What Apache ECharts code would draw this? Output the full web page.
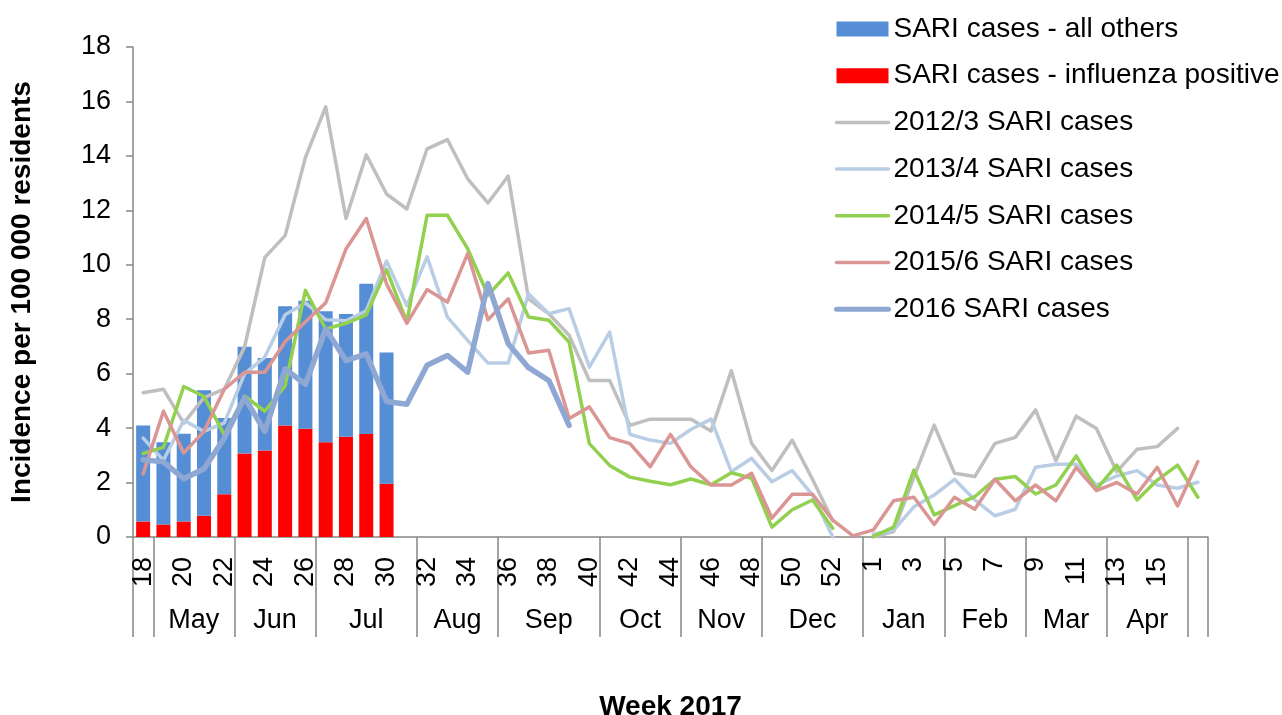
<!DOCTYPE html>
<html>
<head>
<meta charset="utf-8">
<script src="https://cdn.jsdelivr.net/npm/echarts@6/dist/echarts.min.js"></script>
<style>
  html, body { margin: 0; padding: 0; background: #fff; }
  #chart { width: 1282px; height: 715px; }
</style>
</head>
<body>
<div id="chart"></div>
<script>
// weeks of the season, 2016 wk18 .. 2017 wk17 (wk53 from 2015/6 only)
const weeks = ["18","19","20","21","22","23","24","25","26","27","28","29","30","31","32","33","34","35",
  "36","37","38","39","40","41","42","43","44","45","46","47","48","49","50","51","52","53",
  "1","2","3","4","5","6","7","8","9","10","11","12","13","14","15","16","17"];

// month groups: name and index of first week in group
const monthNames = ["", "May", "Jun", "Jul", "Aug", "Sep", "Oct", "Nov", "Dec", "Jan", "Feb", "Mar", "Apr", ""];
const monthStarts = [0, 1, 5, 9, 14, 18, 23, 27, 31, 36, 40, 44, 48, 52];

const fluPositive = [0.57, 0.46, 0.57, 0.78, 1.57, 3.07, 3.18, 4.10, 3.98, 3.48, 3.68, 3.78, 1.96];
const allOthers   = [3.53, 3.02, 3.22, 4.61, 2.80, 3.92, 3.40, 4.38, 4.70, 4.81, 4.51, 5.52, 4.82];

const s2012 = [5.30, 5.43, 4.18, 5.12, 5.43, 6.98, 10.27, 11.07, 13.94, 15.80, 11.70, 14.04, 12.60, 12.05,
  14.26, 14.60, 13.16, 12.27, 13.26, 8.75, 8.20, 7.41, 5.75, 5.75, 4.10, 4.33, 4.33, 4.33, 3.89, 6.11,
  3.44, 2.44, 3.56, 2.12, 0.60, null, 0.00, 0.20, 2.20, 4.11, 2.34, 2.22, 3.44, 3.66, 4.67, 2.80, 4.44,
  3.99, 2.40, 3.22, 3.32, 3.99, null];
const s2013 = [3.63, 2.82, 4.29, 3.88, 4.19, 5.99, 6.61, 8.16, 8.60, 7.98, 7.94, 8.31, 10.14, 8.50,
  10.29, 8.08, 7.22, 6.39, 6.39, 8.94, 8.20, 8.39, 6.24, 7.53, 3.77, 3.56, 3.44, 3.95, 4.33, 2.40,
  2.89, 2.03, 2.44, 1.55, 0.00, null, 0.10, 0.25, 1.11, 1.54, 2.12, 1.36, 0.78, 1.02, 2.56, 2.67, 2.67,
  1.91, 2.24, 2.44, 1.91, 1.79, 2.01];
const s2014 = [3.07, 3.29, 5.53, 5.16, 3.75, 5.18, 4.62, 5.55, 9.06, 7.64, 7.85, 8.16, 9.82, 7.90,
  11.82, 11.82, 10.59, 8.88, 9.70, 8.08, 7.96, 7.16, 3.43, 2.63, 2.20, 2.05, 1.92, 2.13, 1.92, 2.36,
  2.16, 0.36, 1.00, 1.36, 0.32, null, 0.02, 0.36, 2.46, 0.81, 1.15, 1.48, 2.12, 2.22, 1.58, 1.91, 2.98,
  1.75, 2.64, 1.36, 2.09, 2.64, 1.46];
const s2015 = [2.32, 4.62, 3.09, 3.88, 5.43, 6.05, 6.05, 7.17, 7.91, 8.60, 10.58, 11.70, 9.30, 7.85,
  9.09, 8.63, 10.41, 7.98, 8.75, 6.76, 6.86, 4.35, 4.78, 3.65, 3.43, 2.58, 3.77, 2.58, 1.91, 1.91,
  2.34, 0.69, 1.57, 1.57, 0.62, 0.04, 0.26, 1.33, 1.46, 0.46, 1.46, 1.02, 2.12, 1.33, 1.91, 1.33, 2.56,
  1.70, 2.00, 1.58, 2.56, 1.14, 2.77];
const s2016 = [2.84, 2.76, 2.14, 2.51, 3.63, 5.12, 3.88, 6.17, 5.61, 7.64, 6.48, 6.73, 4.98, 4.88,
  6.31, 6.67, 6.06, 9.31, 7.10, 6.22, 5.75, 4.10];

const yTicks = { min: 0, max: 18, interval: 2 };

// half-week category axis for month labels / separators
const halfCats = [];
for (let k = 0; k <= weeks.length * 2; k++) halfCats.push(String(k));
const boundaryK = monthStarts.map(s => s * 2).concat([weeks.length * 2]);
const centerK = {};
monthStarts.forEach((s, i) => {
  const end = i + 1 < monthStarts.length ? monthStarts[i + 1] : weeks.length;
  centerK[s + end] = monthNames[i];
});

const font = "Liberation Sans, Arial, sans-serif";
const axisGray = "#868686";

const chart = echarts.init(document.getElementById("chart"));

const lineSeries = (name, data, color, width) => ({
  name: name,
  type: "line",
  data: data,
  symbol: "none",
  connectNulls: false,
  lineStyle: { color: color, width: width, cap: "round", join: "round" },
  itemStyle: { color: color },
  z: 3
});

// legend entry for a line: no marker, just the stroke
const lineLegend = (name, width) => ({
  name: name,
  itemStyle: { opacity: 0 },
  lineStyle: { width: width, cap: "round" }
});

const option = {
  animation: false,
  textStyle: { fontFamily: font },
  grid: { left: 133, right: 74, top: 47, bottom: 178, containLabel: false, outerBoundsMode: "none" },
  legend: {
    orient: "vertical",
    left: 829,
    top: 10,
    itemWidth: 52,
    itemHeight: 15,
    itemGap: 18.7,
    textStyle: { fontSize: 28, color: "#000", fontFamily: font },
    data: [
      { name: "SARI cases - all others", icon: "rect" },
      { name: "SARI cases - influenza positive", icon: "rect" },
      lineLegend("2012/3 SARI cases", 3.5),
      lineLegend("2013/4 SARI cases", 3.5),
      lineLegend("2014/5 SARI cases", 3.5),
      lineLegend("2015/6 SARI cases", 3.5),
      lineLegend("2016 SARI cases", 5)
    ]
  },
  xAxis: [
    {
      type: "category",
      data: weeks,
      boundaryGap: true,
      name: "Week 2017",
      nameLocation: "middle",
      nameGap: 156,
      nameTextStyle: { fontSize: 28, fontWeight: "bold", color: "#000", fontFamily: font },
      axisLine: { lineStyle: { color: axisGray, width: 1.5 } },
      axisTick: { interval: 0, length: 48, lineStyle: { color: axisGray, width: 1.5 } },
      axisLabel: {
        rotate: 90,
        margin: 20,
        fontSize: 27,
        color: "#000",
        interval: (i) => i % 2 === 0 && i < 52
      },
      splitLine: { show: false }
    },
    {
      type: "category",
      data: halfCats,
      boundaryGap: false,
      position: "bottom",
      axisLine: { show: false },
      axisTick: {
        length: 100,
        interval: (k) => boundaryK.indexOf(k) >= 0,
        lineStyle: { color: axisGray, width: 1.5 }
      },
      axisLabel: {
        margin: 70,
        fontSize: 27,
        color: "#000",
        interval: (k) => centerK[k] !== undefined && centerK[k] !== "",
        formatter: (v, k) => centerK[k] || ""
      },
      splitLine: { show: false }
    }
  ],
  yAxis: {
    type: "value",
    min: yTicks.min,
    max: yTicks.max,
    interval: yTicks.interval,
    name: "Incidence per 100 000 residents",
    nameLocation: "middle",
    nameGap: 97,
    nameTextStyle: { fontSize: 28, fontWeight: "bold", color: "#000", fontFamily: font },
    axisLine: { show: true, lineStyle: { color: axisGray, width: 1.5 } },
    axisTick: { show: true, length: 7, lineStyle: { color: axisGray, width: 1.5 } },
    axisLabel: { fontSize: 27, color: "#000", margin: 22 },
    splitLine: { show: false }
  },
  series: [
    {
      name: "SARI cases - influenza positive",
      type: "bar",
      stack: "sari",
      data: fluPositive,
      barWidth: 14,
      itemStyle: { color: "#FF0000" },
      z: 2
    },
    {
      name: "SARI cases - all others",
      type: "bar",
      stack: "sari",
      data: allOthers,
      barWidth: 14,
      itemStyle: { color: "#558ED5" },
      z: 2
    },
    lineSeries("2012/3 SARI cases", s2012, "#BFBFBF", 3.5),
    lineSeries("2013/4 SARI cases", s2013, "#B9CDE5", 3.5),
    lineSeries("2014/5 SARI cases", s2014, "#92D050", 3.5),
    lineSeries("2015/6 SARI cases", s2015, "#D99694", 3.5),
    lineSeries("2016 SARI cases", s2016, "#8EA8D3", 5.5)
  ]
};

chart.setOption(option);

window.addEventListener("resize", () => {
  chart.resize();
});
</script>
</body>
</html>
